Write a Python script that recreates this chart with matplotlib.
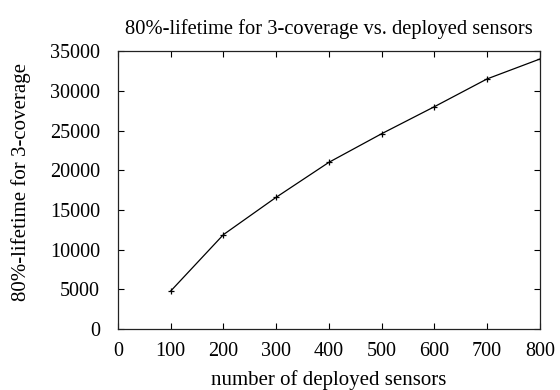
import matplotlib
matplotlib.use("Agg")
import matplotlib.pyplot as plt

sensors = [100, 200, 300, 400, 500, 600, 700, 800]
lifetime = [4800, 11900, 16600, 21000, 24600, 28000, 31500, 34000]
xticks = [0, 100, 200, 300, 400, 500, 600, 700, 800]
yticks = [0, 5000, 10000, 15000, 20000, 25000, 30000, 35000]

plt.rcParams['font.family'] = ['Liberation Serif', 'DejaVu Serif']
plt.rcParams['font.size'] = 15

fig = plt.figure(figsize=(5.6, 3.9), dpi=100)
ax = fig.add_axes([0.2107, 0.156, 0.964 - 0.2107, 0.869 - 0.156])
ax.plot(sensors, lifetime, color='black', lw=0.9, marker='+', ms=5, mew=0.9)
ax.set_xlim(0, 800)
ax.set_ylim(0, 35000)
ax.set_xticks(xticks)
ax.set_yticks(yticks)
ax.tick_params(direction='in', length=4, width=0.8, top=True, right=True, labelsize=14.5)
ax.tick_params(axis='x', pad=9)
ax.tick_params(axis='y', pad=13)
for s in ax.spines.values():
    s.set_linewidth(0.9)
    s.set_color('#222222')
ax.set_title('80%-lifetime for 3-coverage vs. deployed sensors', fontsize=14.8, pad=12)
ax.set_xlabel('number of deployed sensors', fontsize=15)
ax.set_ylabel('80%-lifetime for 3-coverage', fontsize=15)
ax.xaxis.set_label_coords(0.5, -0.147)
ax.yaxis.set_label_coords(-0.206, 0.529)
fig.savefig('out.png', dpi=100)
